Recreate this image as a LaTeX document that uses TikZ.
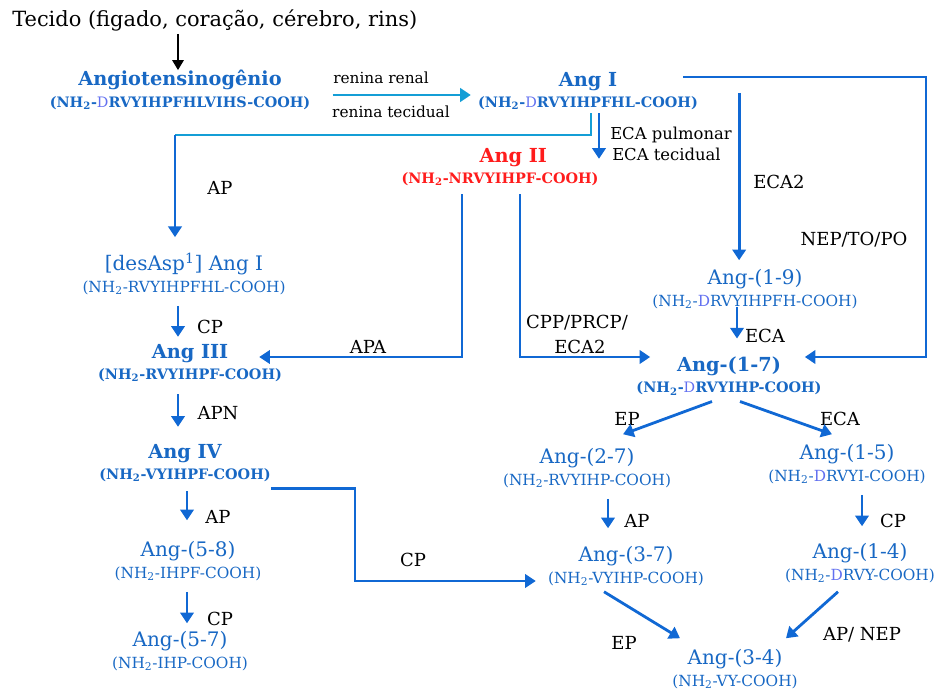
\documentclass[tikz,border=0pt]{standalone}
\usepackage{fontspec}
\setmainfont{DejaVu Serif}
\usepackage{xcolor}
\usepackage{tikz}
\usetikzlibrary{arrows.meta,calc}

\definecolor{pepblue}{RGB}{24,104,196}
\definecolor{lineblue}{RGB}{16,104,212}
\definecolor{cyanline}{RGB}{20,158,214}
\definecolor{dblue}{RGB}{98,112,240}
\definecolor{angred}{RGB}{255,28,28}

\newcommand{\nh}{NH\textsubscript{2}}
\newcommand{\dd}{{\mdseries\color{dblue}D}}
\newcommand{\bname}[1]{{\fontsize{14.5}{16}\selectfont\bfseries #1}}
\newcommand{\bseq}[1]{{\fontsize{10.8}{16}\selectfont\bfseries #1}}
\newcommand{\rname}[1]{{\fontsize{15}{16}\selectfont #1}}
\newcommand{\rseq}[1]{{\fontsize{11.5}{16}\selectfont #1}}

\tikzset{
  pep/.style={text=pepblue, align=center, inner sep=0pt, font=\fontsize{10}{16}\selectfont},
  bpep/.style={pep},
  enz/.style={inner sep=0pt, font=\fontsize{13.5}{15}\selectfont},
  renina/.style={inner sep=0pt, font=\fontsize{11.5}{13}\selectfont},
  arr/.style={draw=lineblue, line width=2.1pt, -{Triangle[width=10pt,length=8pt]}},
  cyanarr/.style={arr, draw=cyanline},
  blkarr/.style={draw=black, line width=1.5pt, -{Triangle[width=8.5pt,length=7.5pt]}}
}

\begin{document}
\begin{tikzpicture}[x=0.75pt,y=-0.75pt]
    \useasboundingbox (0,0) rectangle (940,692);

    \node[anchor=west, inner sep=0pt, font=\fontsize{15.7}{18}\selectfont] (tecido) at (12,20) {Tecido (figado, coração, cérebro, rins)};

    % peptides
    \node[bpep] (agt) at (180,90) {\bname{Angiotensinogênio}\\\bseq{(\nh-\dd RVYIHPFHLVIHS-COOH)}};
    \node[bpep] (angI) at (588,91) {\bname{Ang I}\\\bseq{(\nh-\dd RVYIHPFHL-COOH)}};
    \node[bpep, text=angred] (angII) at (500,167) {\bname{\hspace*{20pt}Ang II}\\\bseq{(\nh-NRVYIHPF-COOH)}};
    \node[pep] (desasp) at (184,274) {\rname{[desAsp\textsuperscript{1}] Ang I}\\\rseq{(\nh-RVYIHPFHL-COOH)}};
    \node[bpep] (angIII) at (190,363) {\bname{Ang III}\\\bseq{(\nh-RVYIHPF-COOH)}};
    \node[bpep] (angIV) at (185,463) {\bname{Ang IV}\\\bseq{(\nh-VYIHPF-COOH)}};
    \node[pep] (ang58) at (188,561) {\rname{Ang-(5-8)}\\\rseq{(\nh-IHPF-COOH)}};
    \node[pep] (ang57) at (180,651) {\rname{Ang-(5-7)}\\\rseq{(\nh-IHP-COOH)}};
    \node[pep] (ang19) at (755,289) {\rname{Ang-(1-9)}\\\rseq{(\nh-\dd RVYIHPFH-COOH)}};
    \node[bpep] (ang17) at (729,376) {\bname{Ang-(1-7)}\\\bseq{(\nh-\dd RVYIHP-COOH)}};
    \node[pep] (ang27) at (587,468) {\rname{Ang-(2-7)}\\\rseq{(\nh-RVYIHP-COOH)}};
    \node[pep] (ang15) at (847,464) {\rname{Ang-(1-5)}\\\rseq{(\nh-\dd RVYI-COOH)}};
    \node[pep] (ang37) at (626,566) {\rname{Ang-(3-7)}\\\rseq{(\nh-VYIHP-COOH)}};
    \node[pep] (ang14) at (860,563) {\rname{Ang-(1-4)}\\\rseq{(\nh-\dd RVY-COOH)}};
    \node[pep] (ang34) at (735,669) {\rname{Ang-(3-4)}\\\rseq{(\nh-VY-COOH)}};

    % enzymes
    \node[renina] (renal) at (381,78) {renina renal};
    \node[renina] (tecid) at (391,112) {renina tecidual};
    \node[enz, anchor=west, font=\fontsize{12.3}{14}\selectfont] (ecapulm) at (610,135) {ECA pulmonar};
    \node[enz, anchor=west, font=\fontsize{12.3}{14}\selectfont] (ecatec) at (612,154) {ECA tecidual};
    \node[enz] (apA) at (220,188) {AP};
    \node[enz] (eca2a) at (779,182) {ECA2};
    \node[enz] (neptopo) at (854,240) {NEP/TO/PO};
    \node[enz] (cpA) at (210,327) {CP};
    \node[enz] (apa) at (368,347) {APA};
    \node[enz] (cpp) at (577,323) {CPP/PRCP/};
    \node[enz] (eca2b) at (580,347) {ECA2};
    \node[enz] (ecaA) at (765,336) {ECA};
    \node[enz] (apn) at (218,413) {APN};
    \node[enz] (epA) at (627,419) {EP};
    \node[enz] (ecaB) at (840,419) {ECA};
    \node[enz] (apB) at (218,517) {AP};
    \node[enz] (cpB) at (413,560) {CP};
    \node[enz] (apC) at (637,521) {AP};
    \node[enz] (cpC) at (893,521) {CP};
    \node[enz] (cpD) at (220,619) {CP};
    \node[enz] (epB) at (624,643) {EP};
    \node[enz] (apnep) at (862,635) {AP/ NEP};

    \coordinate (apc) at (175,135);
    \coordinate (cpc) at (355,581);
    \coordinate (loopc) at (926,357);

    % connectors
    \draw[blkarr] ($(agt.north |- tecido.south)+(-2,3)$) -- ($(agt.north)+(-2,0)$);
    \draw[cyanarr] ($(agt.east)+(22,5)$) -- ($(angI.west)+(-7,4)$);
    \draw[draw=cyanline, line width=2.1pt] ($(angI.south)+(3,3)$) |- (apc);
    \draw[arr] (apc) -- ($(desasp.north)+(-9,-16)$);
    \draw[arr] ($(angI.south)+(11,3)$) -- ($(angII.north)+(99,11)$);
    \draw[arr] ($(angII.south)+(-38,8)$) |- ($(angIII.east)+(-23,-6)$);
    \draw[arr] ($(angII.south)+(20,8)$) |- ($(ang17.west)+(14,-19)$);
    \draw[arr] ($(angI.east)+(41,2)$) -- ($(ang19.north -| angI.east)+(41,-9)$);
    \draw[arr] ($(angI.east)+(-15,-14)$) -| (loopc) -- ($(ang17.east)+(-17,-19)$);
    \draw[arr] ($(desasp.south)+(-6,11)$) -- ($(angIII.north)+(-12,-7)$);
    \draw[arr] ($(angIII.south)+(-12,12)$) -- ($(angIV.north)+(-7,-17)$);
    \draw[arr] ($(angIV.south)+(2,9)$) -- ($(ang58.north)+(-1,-21)$);
    \draw[arr] ($(ang58.south)+(-1,11)$) -- ($(ang57.north)+(7,-8)$);
    \draw[arr] ($(angIV.south east)+(0,6)$) -| (cpc) -- ($(ang37.west)+(-12,15)$);
    \draw[arr] ($(ang19.south)+(-18,-2)$) -- ($(ang17.north)+(8,-18)$);
    \draw[arr] ($(ang17.south)+(-17,6)$) -- ($(ang27.north)+(36,-14)$);
    \draw[arr] ($(ang17.south)+(11,6)$) -- ($(ang15.north)+(-15,-10)$);
    \draw[arr] ($(ang27.south)+(21,11)$) -- ($(ang37.north)+(-18,-18)$);
    \draw[arr] ($(ang15.south)+(15,11)$) -- ($(ang14.north)+(2,-17)$);
    \draw[arr] ($(ang37.south)+(-22,6)$) -- ($(ang34.north)+(-55,-11)$);
    \draw[arr] ($(ang14.south)+(-22,9)$) -- ($(ang34.north)+(51,-11)$);
\end{tikzpicture}
\end{document}
